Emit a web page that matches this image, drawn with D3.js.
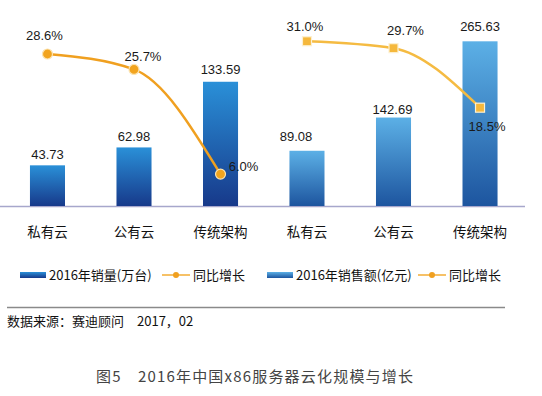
<!DOCTYPE html>
<html><head><meta charset="utf-8">
<style>
  html, body { margin: 0; padding: 0; background: #fff; }
  svg { display: block; }
</style>
</head><body><svg width="542" height="396"></svg>
<script src="https://cdn.jsdelivr.net/npm/d3@7/dist/d3.min.js"></script>
<script>

var categories = ["私有云", "公有云", "传统架构"];

var units = [43.73, 62.98, 133.59];        // 2016年销量(万台)
var unitsGrowth = [28.6, 25.7, 6.0];       // 同比增长 %
var sales = [89.08, 142.69, 265.63];       // 2016年销售额(亿元)
var salesGrowth = [31.0, 29.7, 18.5];      // 同比增长 %

var legendLabels = ["2016年销量(万台)", "同比增长", "2016年销售额(亿元)", "同比增长"];
var sourceText = "数据来源：赛迪顾问　2017，02";
var captionText = "图5　2016年中国x86服务器云化规模与增长";

var svg = d3.select("svg"),
    base = 206,
    plotTop = 20;

var cjk = "'Noto Sans CJK SC', 'Microsoft YaHei', sans-serif",
    latin = "'Liberation Sans', Arial, sans-serif";

var defs = svg.append("defs");

function gradient(id, c0, c1) {
  var g = defs.append("linearGradient").attr("id", id)
      .attr("x1", 0).attr("y1", 0).attr("x2", 0).attr("y2", 1);
  g.append("stop").attr("offset", "0%").attr("stop-color", c0);
  g.append("stop").attr("offset", "100%").attr("stop-color", c1);
}
gradient("gL", "#2a90d8", "#17398a");
gradient("gR", "#5cb0e6", "#1d559f");

var yPct = d3.scaleLinear().domain([0, 35]).range([base, plotTop]);

// label nudges (dx, dy) relative to the mark
var panels = [
  {
    values: units, growth: unitsGrowth,
    x: d3.scaleBand().domain(categories).range([4, 264]).paddingInner(0.595).paddingOuter(0.3),
    y: d3.scaleLinear().domain([0, 200]).range([base, plotTop]),
    fill: "url(#gL)", line: "#f0a020", marker: "circle",
    valueNudge: [[0, -6], [0, -6], [0, -8]],
    pctNudge: [[-3, -14], [9, -8], [23, -3]]
  },
  {
    values: sales, growth: salesGrowth,
    x: d3.scaleBand().domain(categories).range([263.5, 523.5]).paddingInner(0.595).paddingOuter(0.3),
    y: d3.scaleLinear().domain([0, 300]).range([base, plotTop]),
    fill: "url(#gR)", line: "#f5bb42", marker: "square",
    valueNudge: [[-11, -10], [-1, -4], [0, -10]],
    pctNudge: [[-2, -10], [12, -13], [7, 23]]
  }
];

// baseline
svg.append("line")
    .attr("x1", 0).attr("x2", 525)
    .attr("y1", base + 0.5).attr("y2", base + 0.5)
    .attr("stroke", "#a7a7cc").attr("stroke-width", 1.5);

panels.forEach(function(p) {
  var g = svg.append("g");

  g.selectAll("rect.bar").data(p.values).join("rect")
      .attr("class", "bar")
      .attr("x", function(d, i) { return p.x(categories[i]); })
      .attr("y", function(d) { return p.y(d); })
      .attr("width", p.x.bandwidth())
      .attr("height", function(d) { return base - p.y(d); })
      .attr("fill", p.fill);

  g.selectAll("text.val").data(p.values).join("text")
      .attr("class", "val")
      .attr("x", function(d, i) { return p.x(categories[i]) + p.x.bandwidth() / 2 + p.valueNudge[i][0]; })
      .attr("y", function(d, i) { return p.y(d) + p.valueNudge[i][1]; })
      .attr("text-anchor", "middle")
      .style("font", "13px " + latin)
      .attr("fill", "#1a1a1a")
      .text(function(d) { return d.toFixed(2); });

  g.selectAll("text.cat").data(categories).join("text")
      .attr("class", "cat")
      .attr("x", function(d) { return p.x(d) + p.x.bandwidth() / 2; })
      .attr("y", 236.5)
      .attr("text-anchor", "middle")
      .style("font", "13.5px " + cjk)
      .attr("fill", "#111")
      .text(function(d) { return d; });

  var cx = function(d, i) { return p.x(categories[i]) + p.x.bandwidth() / 2; };

  var line = d3.line()
      .x(cx)
      .y(function(d) { return yPct(d); })
      .curve(d3.curveMonotoneX);

  g.append("path")
      .datum(p.growth)
      .attr("d", line)
      .attr("fill", "none")
      .attr("stroke", p.line)
      .attr("stroke-width", 2.5);

  if (p.marker === "circle") {
    g.selectAll("circle.pt").data(p.growth).join("circle")
        .attr("class", "pt")
        .attr("cx", cx)
        .attr("cy", function(d) { return yPct(d); })
        .attr("r", 5)
        .attr("fill", "#f2a41e")
        .attr("stroke", "#fbe3b0").attr("stroke-width", 1.2);
  } else {
    g.selectAll("rect.pt").data(p.growth).join("rect")
        .attr("class", "pt")
        .attr("x", function(d, i) { return cx(d, i) - 4.5; })
        .attr("y", function(d) { return yPct(d) - 4.5; })
        .attr("width", 9).attr("height", 9)
        .attr("fill", "#f5b83c")
        .attr("stroke", "#fdf0d0").attr("stroke-width", 1.2);
  }

  g.selectAll("text.pct").data(p.growth).join("text")
      .attr("class", "pct")
      .attr("x", function(d, i) { return cx(d, i) + p.pctNudge[i][0]; })
      .attr("y", function(d, i) { return yPct(d) + p.pctNudge[i][1]; })
      .attr("text-anchor", "middle")
      .style("font", "13px " + latin)
      .attr("fill", "#1a1a1a")
      .text(function(d) { return d.toFixed(1) + "%"; });
});

// legend
var legendX = [20, 162, 267, 418];
var legend = svg.append("g").attr("transform", "translate(0,275)");

legendLabels.forEach(function(label, i) {
  var x = legendX[i], item = legend.append("g");
  if (i % 2 === 0) {
    item.append("rect")
        .attr("x", x).attr("y", -3).attr("width", 26).attr("height", 6)
        .attr("fill", i === 0 ? "url(#gL)" : "url(#gR)");
    item.append("text")
        .attr("x", x + 29).attr("y", 5)
        .style("font", "13px " + cjk).attr("fill", "#111")
        .text(label);
  } else {
    item.append("line")
        .attr("x1", x).attr("x2", x + 28).attr("y1", 0).attr("y2", 0)
        .attr("stroke", "#f3ad35").attr("stroke-width", 1.5);
    item.append("circle")
        .attr("cx", x + 14).attr("cy", 0).attr("r", 3)
        .attr("fill", "#f0a020");
    item.append("text")
        .attr("x", x + 31).attr("y", 5)
        .style("font", "13px " + cjk).attr("fill", "#111")
        .text(label);
  }
});

// separator and source
svg.append("line")
    .attr("x1", 7).attr("x2", 505).attr("y1", 307.5).attr("y2", 307.5)
    .attr("stroke", "#8a8a8a").attr("stroke-width", 1.5);

svg.append("text")
    .attr("x", 7).attr("y", 326)
    .style("font", "13px " + cjk).attr("fill", "#111")
    .text(sourceText);

svg.append("text")
    .attr("x", 96).attr("y", 382)
    .attr("textLength", 317).attr("lengthAdjust", "spacing")
    .style("font", "15px " + cjk).attr("fill", "#444")
    .text(captionText);

</script>
</body></html>
